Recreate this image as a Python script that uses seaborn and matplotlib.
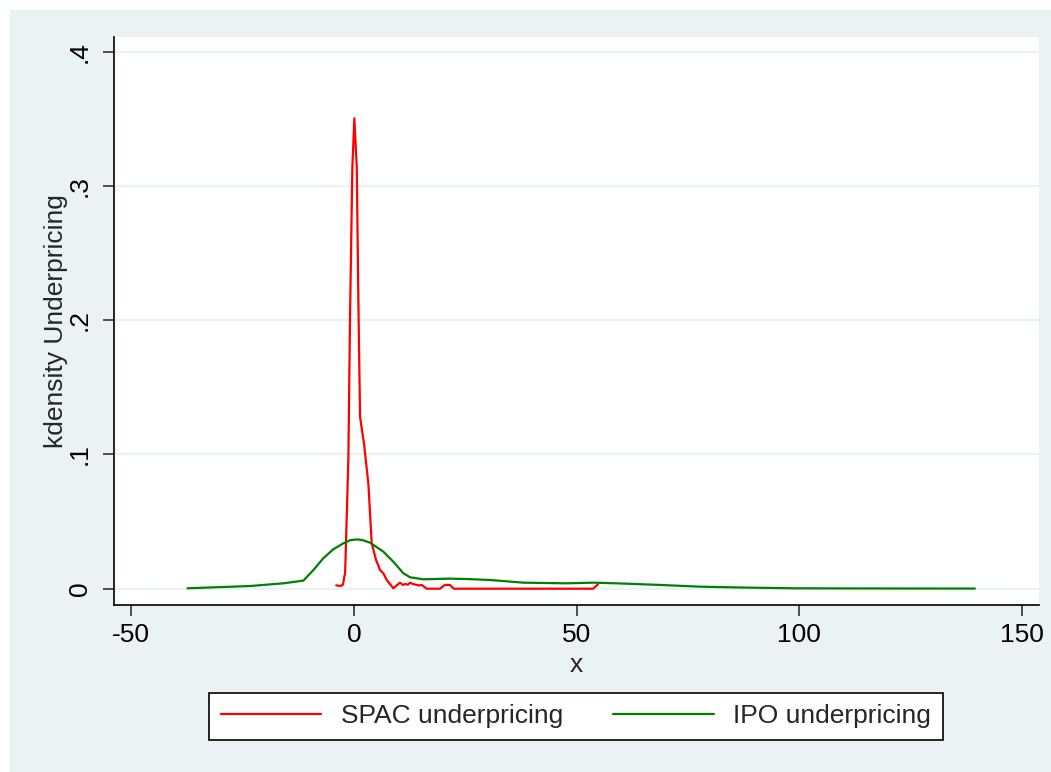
import matplotlib
matplotlib.use("Agg")
import matplotlib.pyplot as plt
import matplotlib.patches as mpatches
import seaborn as sns
import pandas as pd

# ---- data ----
spac_x = [-4.0, -3.0, -2.5, -2.0, -1.28, -0.90, -0.38, 0.07, 0.61, 0.97, 1.35, 2.24,
          3.21, 3.97, 4.94, 5.84, 6.58, 7.34, 8.82, 10.3, 11.0, 11.45, 12.1, 12.57,
          13.2, 14.07, 14.6, 15.2, 16.3, 19.3, 20.4, 21.5, 22.4, 53.7, 54.8]
spac_y = [0.0025, 0.002, 0.003, 0.012, 0.096, 0.203, 0.314, 0.3505, 0.314, 0.215,
          0.128, 0.108, 0.0785, 0.0338, 0.0214, 0.0139, 0.0115, 0.0065, 0.0003,
          0.0045, 0.0028, 0.0035, 0.003, 0.0045, 0.0035, 0.0028, 0.0024, 0.0028,
          0.0, 0.0, 0.0028, 0.0028, 0.0, 0.0, 0.0033]
ipo_x = [-37.4, -23.3, -15.9, -11.4, -9.1, -6.9, -4.65, -2.4, -0.9, 0.67, 1.8, 3.6,
         6.58, 8.82, 11.07, 12.57, 15.56, 21.5, 25.3, 30.5, 38.0, 47.7, 53.7, 59.0,
         68.7, 77.7, 86.6, 98.6, 111.3, 139.4]
ipo_y = [0.0003, 0.002, 0.004, 0.006, 0.014, 0.0227, 0.0294, 0.0338, 0.0361, 0.0367,
         0.0363, 0.0343, 0.0276, 0.0201, 0.0115, 0.0085, 0.007, 0.0075, 0.0072,
         0.0065, 0.0045, 0.004, 0.0045, 0.004, 0.0028, 0.0015, 0.0009, 0.0003,
         0.0002, 0.0001]
series_names = ["SPAC underpricing", "IPO underpricing"]
x_ticks = [-50, 0, 50, 100, 150]
x_ticklabels = ["-50", "0", "50", "100", "150"]
y_ticks = [0, 0.1, 0.2, 0.3, 0.4]
y_ticklabels = ["0", ".1", ".2", ".3", ".4"]

df = pd.concat([
    pd.DataFrame({"x": spac_x, "y": spac_y, "series": series_names[0], "order": range(len(spac_x))}),
    pd.DataFrame({"x": ipo_x, "y": ipo_y, "series": series_names[1], "order": range(len(ipo_x))}),
], ignore_index=True)

BG = "#EAF2F3"
sns.set_theme(style="white")
plt.rcParams["font.family"] = ["Liberation Sans", "DejaVu Sans"]
FS = 19

fig = plt.figure(figsize=(10.51, 7.72), dpi=100, facecolor="white")
# outer light background region
fig.patches.append(mpatches.Rectangle((10 / 1051, 0), 1 - 10 / 1051, 1 - 10 / 772,
                                      transform=fig.transFigure, facecolor=BG,
                                      edgecolor="none", zorder=-10))

ax = fig.add_axes([114 / 1051, 1 - 605 / 772, (1039 - 114) / 1051, (605 - 37) / 772])
ax.set_facecolor("white")

sns.lineplot(data=df, x="x", y="y", hue="series", palette=["#FF0000", "#008000"],
             sort=False, estimator=None, linewidth=1.6, ax=ax, legend=True)

ax.set_xlim(-53.9, 153.8)
ax.set_ylim(-0.01215, 0.4111)
ax.set_xticks(x_ticks)
ax.set_xticklabels(x_ticklabels, fontsize=FS)
ax.set_yticks(y_ticks)
ax.set_yticklabels(y_ticklabels, fontsize=FS, rotation=90, va="center")

ax.grid(axis="y", color=BG, linewidth=1.6)
ax.grid(axis="x", visible=False)
ax.set_axisbelow(True)

for s in ["top", "right"]:
    ax.spines[s].set_visible(False)
for s in ["left", "bottom"]:
    ax.spines[s].set_color("black")
    ax.spines[s].set_linewidth(1.2)

ax.tick_params(axis="both", which="major", direction="out", length=8, width=1.2,
               color="#333333", labelcolor="black", left=True, bottom=True)
ax.tick_params(axis="y", pad=8)
ax.tick_params(axis="x", pad=5)

ax.set_xlabel("x", fontsize=FS, labelpad=4)
ax.set_ylabel("kdensity Underpricing", fontsize=FS, labelpad=0)

handles, labels = ax.get_legend_handles_labels()
ax.get_legend().remove()
leg = fig.legend(handles, labels, loc="center", bbox_to_anchor=(576 / 1051, 1 - 716.5 / 772),
                 ncol=2, fontsize=FS, frameon=True, fancybox=False, handlelength=3.8,
                 handletextpad=0.75, columnspacing=1.9, borderpad=0.45, borderaxespad=0)
leg.get_frame().set_edgecolor("black")
leg.get_frame().set_linewidth(1.2)
leg.get_frame().set_facecolor("white")
leg.get_frame().set_alpha(1)

fig.savefig("out.png", dpi=100, facecolor="white")
